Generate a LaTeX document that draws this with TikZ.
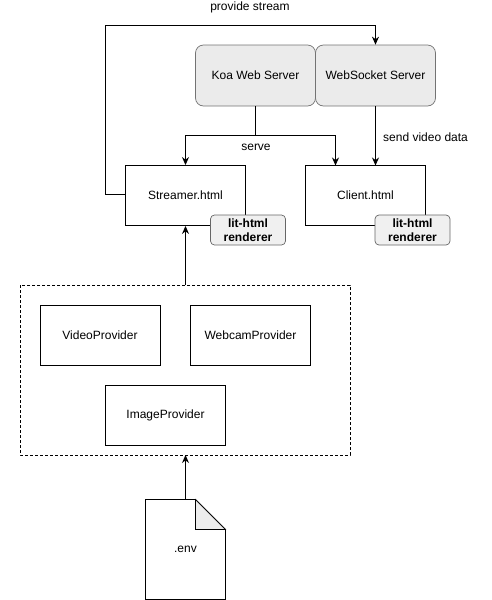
\documentclass[tikz,border=0pt]{standalone}
\usepackage{fontspec}
\setmainfont{Liberation Sans}
\usetikzlibrary{arrows.meta}
\begin{document}
\begin{tikzpicture}[x=1pt,y=-1pt,
  box/.style={draw,line width=0.9pt,minimum width=#1,minimum height=60pt,inner sep=0pt,font=\fontsize{12}{14}\selectfont},
  srv/.style={draw=black!55,fill=black!8,rounded corners=8pt,line width=0.7pt,minimum width=120pt,minimum height=61pt,inner sep=0pt,font=\fontsize{12}{14}\selectfont},
  lit/.style={draw=black!60,fill=black!6,rounded corners=4pt,line width=0.7pt,minimum width=75pt,minimum height=30pt,inner sep=0pt,align=center,font=\fontsize{12}{13.5}\selectfont\bfseries},
  conn/.style={line width=0.9pt,-{Stealth[length=8pt,width=7pt]}},
  lbl/.style={font=\fontsize{12}{14}\selectfont,inner sep=0pt}]
\useasboundingbox (0,0) rectangle (491,600);
% servers
\node[srv] (koa) at (255.5,75.5) {Koa Web Server};
\node[srv] (ws) at (375.5,75.5) {WebSocket Server};
% html pages
\node[box=120pt] (streamer) at (185.5,195.5) {Streamer.html};
\node[box=120pt] (client) at (365.5,195.5) {Client.html};
\node[lit] (lit1) at (248,230) {lit-html\\renderer};
\node[lit] (lit2) at (412.5,230) {lit-html\\renderer};
% providers
\draw[line width=0.8pt,dash pattern=on 3pt off 2pt] (20,285) rectangle (350,455);
\coordinate (dtop) at (185.5,285);
\coordinate (dbot) at (185.5,455);
\node[box=120pt] (video) at (100,335.5) {VideoProvider};
\node[box=120pt] (webcam) at (250.5,335.5) {WebcamProvider};
\node[box=120pt] (image) at (165.5,415) {ImageProvider};
% .env
\draw[line width=0.9pt,fill=white] (145.5,499.5) -- (195.5,499.5) -- (225.5,529.5) -- (225.5,599.5) -- (145.5,599.5) -- cycle;
\draw[line width=0.7pt,fill=black!7] (195.5,499.5) -- (195.5,529.5) -- (225.5,529.5) -- cycle;
\node[lbl] (env) at (185.5,549.5) {.env};
\coordinate (envtop) at (185.5,499.5);
% connectors
\draw[conn] (streamer.west |- 0,194) -- (105,194) -- (105,25.5) -- (375.5,25.5) -- (ws.north);
\node[lbl] (ps) at (250,7) {provide stream};
\draw[line width=0.9pt] (koa.south) -- (255.5,135.5);
\draw[conn] (255.5,135.5) -- (185.5,135.5) -- (streamer.north);
\draw[conn] (255.5,135.5) -- (335.5,135.5) -- (335.5,165.5);
\node[lbl] (serve) at (256,147) {serve};
\draw[conn] (ws.south) -- (375.5,165.5);
\node[lbl,anchor=west] (svd) at (383,137) {send video data};
\draw[conn] (dtop) -- (streamer.south);
\draw[conn] (envtop) -- (dbot);
\end{tikzpicture}
\end{document}
